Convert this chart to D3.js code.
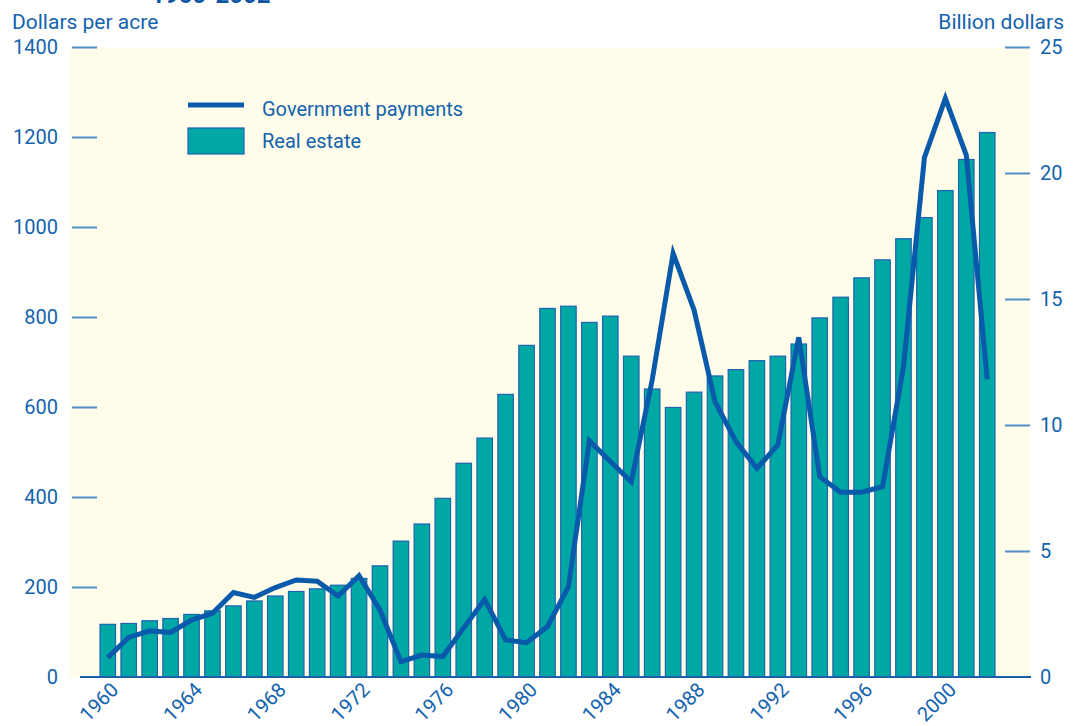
<!DOCTYPE html>
<html>
<head>
<meta charset="utf-8">
<script src="https://cdn.jsdelivr.net/npm/d3@7"></script>
<style>
  html, body { margin: 0; padding: 0; background: #ffffff; }
  svg { display: block; }
  text { font-family: Roboto, "Liberation Sans", sans-serif; fill: #1363ae; }
</style>
</head>
<body>
<svg id="chart" width="1079" height="726"></svg>
<script>
// ---- data ----
const years = d3.range(1960, 2003);
const realEstate = [117, 119, 125, 130, 139, 147, 158, 169, 180, 190, 196, 204, 219, 247,
  302, 340, 397, 475, 531, 628, 737, 819, 824, 788, 802, 713, 640, 599, 633, 669,
  683, 703, 713, 740, 798, 844, 887, 927, 974, 1021, 1081, 1150, 1210];
const govPayments = [0.77, 1.57, 1.83, 1.77, 2.26, 2.53, 3.35, 3.16, 3.55, 3.85, 3.80, 3.21, 4.02, 2.66,
  0.61, 0.87, 0.81, 1.95, 3.08, 1.47, 1.36, 2.0, 3.58, 9.37, 8.55, 7.75, 11.79, 16.81, 14.56, 10.93,
  9.34, 8.28, 9.21, 13.48, 7.95, 7.33, 7.33, 7.55, 12.31, 20.61, 22.96, 20.71, 11.81];
const leftTicks = [0, 200, 400, 600, 800, 1000, 1200, 1400];
const rightTicks = [0, 5, 10, 15, 20, 25];
const xTickYears = [1960, 1964, 1968, 1972, 1976, 1980, 1984, 1988, 1992, 1996, 2000];
const seriesNames = ["Government payments", "Real estate"];
const leftTitle = "Dollars per acre";
const rightTitle = "Billion dollars";
const periodText = "1960-2002";

// ---- layout ----
const svg = d3.select("#chart");
const plotTop = 47, plotBottom = 677;
const bgLeft = 70, bgRight = 1029;

const x = d3.scaleBand().domain(years).range([97.3, 997.7]).paddingInner(0.26).paddingOuter(0.13);
const yL = d3.scaleLinear().domain([0, 1400]).range([plotBottom, plotTop]);
const yR = d3.scaleLinear().domain([0, 25]).range([plotBottom, plotTop]);

const tickBlue = "#4f8fc6";
const lineBlue = "#0a5aab";
const barFill = "#00a8a5";
const barStroke = "#1e63b0";

// background
svg.append("rect").attr("x", bgLeft).attr("y", plotTop + 1)
  .attr("width", bgRight - bgLeft).attr("height", plotBottom - plotTop - 1)
  .attr("fill", "#fffce9");

// partially visible title
svg.append("text").attr("x", 151).attr("y", 3).attr("font-size", 24).attr("font-weight", "bold")
  .style("fill", "#0d55a3").text(periodText);

// axis titles
svg.append("text").attr("x", 12).attr("y", 29).attr("font-size", 21).text(leftTitle);
svg.append("text").attr("x", 1064).attr("y", 29).attr("font-size", 21).attr("text-anchor", "end").text(rightTitle);

// left axis
const leftAxis = d3.axisLeft(yL).tickValues(leftTicks.filter(d => d > 0)).tickSize(25).tickPadding(0).tickFormat(d3.format("d"));
const gL = svg.append("g").attr("transform", "translate(97,0)").call(leftAxis);
gL.select(".domain").remove();
gL.selectAll(".tick line").attr("stroke", tickBlue).attr("stroke-width", 2);
gL.selectAll(".tick text").remove();
svg.append("g").selectAll("text").data(leftTicks).join("text")
  .attr("x", 58).attr("y", d => yL(d)).attr("dy", "0.36em").attr("text-anchor", "end")
  .attr("font-size", 20).text(d => d);

// right axis
const rightAxis = d3.axisRight(yR).tickValues(rightTicks.filter(d => d > 0)).tickSize(25).tickPadding(0);
const gR = svg.append("g").attr("transform", "translate(1005,0)").call(rightAxis);
gR.select(".domain").remove();
gR.selectAll(".tick line").attr("stroke", tickBlue).attr("stroke-width", 2);
gR.selectAll(".tick text").remove();
svg.append("g").selectAll("text").data(rightTicks).join("text")
  .attr("x", 1040).attr("y", d => yR(d)).attr("dy", "0.36em")
  .attr("font-size", 20).text(d => d);

// bars
svg.append("g").selectAll("rect").data(years).join("rect")
  .attr("x", d => x(d)).attr("width", x.bandwidth())
  .attr("y", (d, i) => yL(realEstate[i])).attr("height", (d, i) => plotBottom - yL(realEstate[i]))
  .attr("fill", barFill).attr("stroke", barStroke).attr("stroke-width", 1.2);

// baseline
svg.append("line").attr("x1", 80).attr("x2", 1031).attr("y1", plotBottom).attr("y2", plotBottom)
  .attr("stroke", "#1a5fa8").attr("stroke-width", 2);

// government payments line
const line = d3.line().x((d, i) => x(years[i]) + x.bandwidth() / 2).y(d => yR(d));
svg.append("path").datum(govPayments).attr("d", line)
  .attr("fill", "none").attr("stroke", lineBlue).attr("stroke-width", 5)
  .attr("stroke-linejoin", "miter").attr("stroke-miterlimit", 4);

// x tick labels
svg.append("g").selectAll("text").data(xTickYears).join("text")
  .attr("transform", d => `translate(${x(d) + x.bandwidth() / 2 + 12},691) rotate(-45)`)
  .attr("text-anchor", "end").attr("font-size", 20).text(d => d);

// legend
const lg = svg.append("g");
lg.append("line").attr("x1", 188).attr("x2", 244).attr("y1", 105).attr("y2", 105)
  .attr("stroke", lineBlue).attr("stroke-width", 5);
lg.append("text").attr("x", 262).attr("y", 116).attr("font-size", 20).text(seriesNames[0]);
lg.append("rect").attr("x", 188).attr("y", 128).attr("width", 56).attr("height", 26)
  .attr("fill", barFill).attr("stroke", barStroke).attr("stroke-width", 1.2);
lg.append("text").attr("x", 262).attr("y", 148).attr("font-size", 20).text(seriesNames[1]);
</script>
</body>
</html>
